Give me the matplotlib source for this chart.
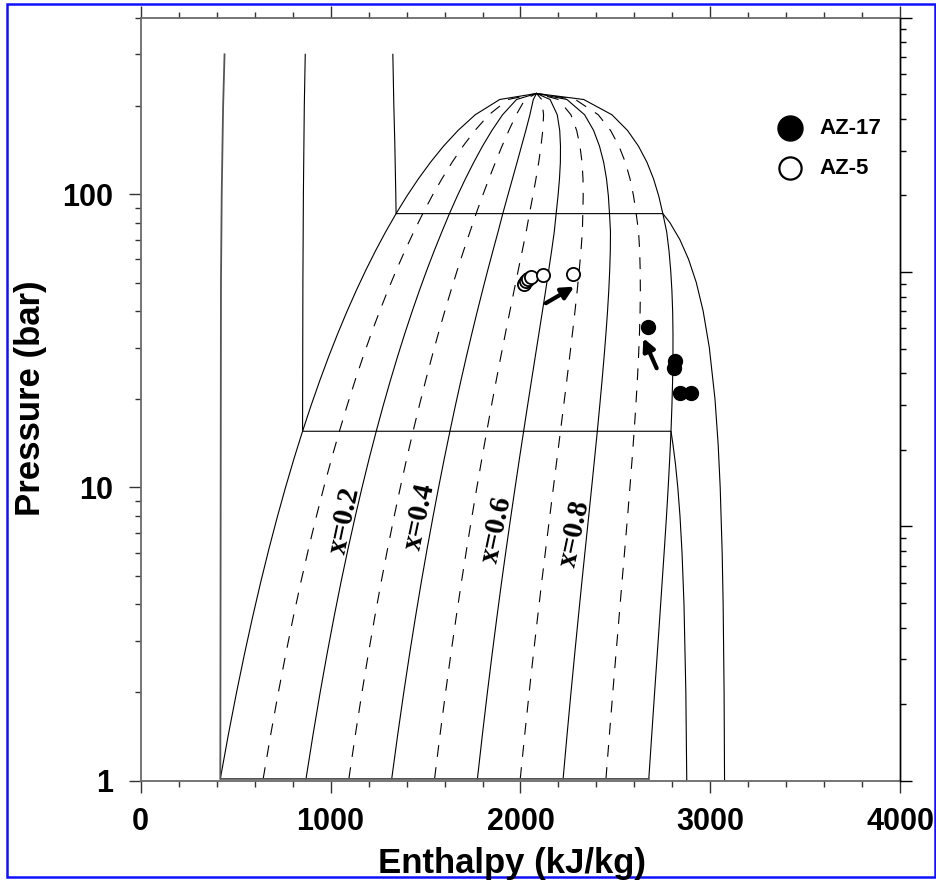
import numpy as np
import matplotlib
matplotlib.use("Agg")
import matplotlib.pyplot as plt
from matplotlib.ticker import MultipleLocator, LogLocator, NullFormatter, FixedLocator
from matplotlib.patches import Rectangle

plt.rcParams['lines.scale_dashes'] = False

sat_T = [100, 110, 120, 130, 140, 150, 160, 170, 180, 190, 200, 210, 220, 230, 240,
         250, 260, 270, 280, 290, 300, 310, 320, 330, 340, 350, 360, 370, 373.95]
sat_p = [1.0142, 1.4338, 1.9867, 2.7028, 3.6154, 4.7616, 6.1823, 7.9219, 10.028, 12.552,
         15.549, 19.077, 23.196, 27.971, 33.469, 39.762, 46.923, 55.030, 64.166, 74.418,
         85.879, 98.651, 112.84, 128.52, 145.86, 165.01, 186.66, 210.44, 220.64]
sat_hf = [419.2, 461.4, 503.8, 546.4, 589.2, 632.2, 675.5, 719.1, 763.1, 807.4,
          852.3, 897.6, 943.6, 990.1, 1037.5, 1085.7, 1134.9, 1185.1, 1236.7, 1289.8,
          1344.8, 1402.0, 1462.2, 1525.9, 1594.5, 1670.9, 1761.5, 1890.7, 2084.3]
sat_hg = [2675.6, 2691.1, 2705.9, 2720.1, 2733.5, 2745.9, 2757.7, 2768.5, 2777.8, 2785.8,
          2792.5, 2797.5, 2801.0, 2802.9, 2803.0, 2801.3, 2797.3, 2790.9, 2782.0, 2769.8,
          2749.6, 2727.9, 2700.6, 2666.0, 2621.3, 2563.6, 2481.5, 2332.7, 2084.3]

qualities = [0.1, 0.2, 0.3, 0.4, 0.5, 0.6, 0.7, 0.8, 0.9]

# ---------------- isotherms (100, 200, 300 C) ----------------
iso100_p = [300, 200, 100, 50, 1.0142, 1.0142]
iso100_h = [441.5, 434.0, 426.6, 422.7, 419.2, 2675.6]

iso200_p = [300, 200, 100, 50, 15.549, 15.549, 14, 12, 10, 8, 6, 4, 2, 1]
iso200_h = [866.5, 861.5, 856.7, 854.1, 852.3, 2792.5, 2803.0, 2816.1, 2828.3,
            2839.8, 2850.6, 2860.9, 2870.7, 2875.5]

iso300_p = [300, 200, 150, 100, 85.879, 85.879, 80, 70, 60, 50, 40, 30, 20, 14, 10,
            6, 4, 2, 1]
iso300_h = [1327.8, 1333.0, 1338.0, 1343.3, 1344.8, 2749.6, 2786.8, 2839.4, 2885.0,
            2925.7, 2961.7, 2994.3, 3024.2, 3040.9, 3051.6, 3062.0, 3067.1, 3072.1, 3074.5]

# ---------------- well data ----------------
az17_h = [2670, 2816, 2808, 2840, 2898]
az17_p = [35.2, 27.0, 25.6, 21.0, 21.0]

az5_h = [2016, 2029, 2042, 2055, 2120, 2278]
az5_p = [49.4, 50.4, 51.4, 52.4, 53.1, 53.5]

arrow_tail_h = [2133, 2717]
arrow_tail_p = [42.5, 25.5]
arrow_tip_h = [2283, 2647]
arrow_tip_p = [48.4, 32.3]

qlabel_text = ["x=0.2", "x=0.4", "x=0.6", "x=0.8"]
qlabel_h = [1071, 1471, 1876, 2287]
qlabel_p = [7.75, 7.94, 7.17, 7.0]

legend_labels = ["AZ-17", "AZ-5"]

x_ticks = [0, 1000, 2000, 3000, 4000]
y_ticks = [1, 10, 100]

# ---------------- figure ----------------
W, H = 937, 881
fig = plt.figure(figsize=(W / 100, H / 100), dpi=100)
ax = fig.add_axes([140.7 / W, (H - 780.7) / H, 759.6 / W, 763 / H])
ax.set_yscale('log')
ax.set_xlim(0, 4000)
ax.set_ylim(1, 400)

LW = 0.8
hf = np.array(sat_hf)
hg = np.array(sat_hg)
# saturation dome
ax.plot(sat_hf, sat_p, color='black', lw=LW)
ax.plot(sat_hg, sat_p, color='black', lw=LW)
# quality lines
for q in qualities:
    hq = hf + q * (hg - hf)
    if round(q * 10) % 2 == 0:
        ax.plot(hq, sat_p, color='black', lw=LW)
    else:
        ax.plot(hq, sat_p, color='black', lw=LW, ls=(0, (8.5, 7.5)))
# isotherms
ax.plot(iso100_h, iso100_p, color='#555555', lw=1.3)
ax.plot(iso200_h, iso200_p, color='black', lw=LW)
ax.plot(iso300_h, iso300_p, color='black', lw=LW)

# quality labels
for t, h, p in zip(qlabel_text, qlabel_h, qlabel_p):
    ax.text(h, p, t, rotation=78, ha='center', va='center', fontsize=21,
            fontweight='bold', family='Liberation Serif', rotation_mode='anchor')

# arrows
for th, tp, hh, hp in zip(arrow_tail_h, arrow_tail_p, arrow_tip_h, arrow_tip_p):
    ax.annotate('', xy=(hh, hp), xytext=(th, tp),
                arrowprops=dict(arrowstyle='-|>', lw=3, color='black',
                                mutation_scale=18, shrinkA=0, shrinkB=0))

# data points
ax.plot(az5_h, az5_p, 'o', ms=9.5, mfc='white', mec='black', mew=1.3, ls='none', zorder=5)
ax.plot(az17_h, az17_p, 'o', ms=10, mfc='black', mec='black', ls='none', zorder=5)

# legend (manual)
ax.plot([0.8548], [0.8554], 'o', ms=18, mfc='black', mec='black',
        transform=ax.transAxes, clip_on=False)
ax.plot([0.8548], [0.8030], 'o', ms=16, mfc='white', mec='black', mew=1.6,
        transform=ax.transAxes, clip_on=False)
ax.text(0.893, 0.8554, legend_labels[0], transform=ax.transAxes, fontsize=16,
        fontweight='bold', family='Liberation Sans', va='center', ha='left')
ax.text(0.893, 0.8030, legend_labels[1], transform=ax.transAxes, fontsize=16,
        fontweight='bold', family='Liberation Sans', va='center', ha='left')

# axes styling
for s in ['left', 'top', 'bottom']:
    ax.spines[s].set_color('#6a6a6a')
    ax.spines[s].set_linewidth(1.3)
ax.spines['right'].set_color('black')
ax.spines['right'].set_linewidth(1.0)

ax.xaxis.set_major_locator(FixedLocator(x_ticks))
ax.xaxis.set_minor_locator(MultipleLocator(200))
ax.yaxis.set_major_locator(FixedLocator(y_ticks))
ax.yaxis.set_minor_locator(LogLocator(base=10, subs=np.arange(2, 10)))
ax.yaxis.set_minor_formatter(NullFormatter())
ax.set_xticklabels([str(v) for v in x_ticks])
ax.set_yticklabels([str(v) for v in y_ticks])

ax.tick_params(axis='x', which='both', direction='out', top=True, bottom=True,
               color='#333333')
ax.tick_params(axis='y', which='both', direction='out', left=True, right=False,
               color='#333333')
ax.tick_params(which='major', length=8.6, width=1.0)
ax.tick_params(which='minor', length=4.3, width=1.0)
ax.tick_params(axis='x', which='major', labelsize=22, pad=10)
ax.tick_params(axis='y', which='major', labelsize=22, pad=11)
for lab in ax.get_xticklabels() + ax.get_yticklabels():
    lab.set_fontweight('bold')
    lab.set_family('Liberation Sans')

# right secondary (unlabeled) log axis
ax2 = ax.twinx()
ax2.set_yscale('log')
ax2.set_ylim(1, 1000)
for s in ['left', 'top', 'bottom']:
    ax2.spines[s].set_visible(False)
ax2.spines['right'].set_color('black')
ax2.spines['right'].set_linewidth(1.0)
ax2.yaxis.set_major_locator(LogLocator(base=10))
ax2.yaxis.set_minor_locator(LogLocator(base=10, subs=np.arange(2, 10)))
ax2.tick_params(axis='y', which='both', direction='out', right=True, labelright=False,
                color='black')
ax2.tick_params(which='major', length=8.6, width=1.0)
ax2.tick_params(which='minor', length=4.3, width=1.0)

# axis titles
fig.text(512 / W, (H - 873) / H, "Enthalpy (kJ/kg)", ha='center', va='baseline',
         fontsize=25, fontweight='bold', family='Liberation Sans')
fig.text(31 / W, (H - 398) / H, "Pressure (bar)", ha='center', va='center',
         rotation=90, fontsize=25, fontweight='bold', family='Liberation Sans')

# blue frame
fig.patches.append(Rectangle((7.5 / W, (H - 877) / H), (935 - 7.5) / W, (877 - 4) / H,
                             transform=fig.transFigure, fill=False,
                             edgecolor='#1010ff', lw=1.8))

fig.savefig('out.png', dpi=100)
